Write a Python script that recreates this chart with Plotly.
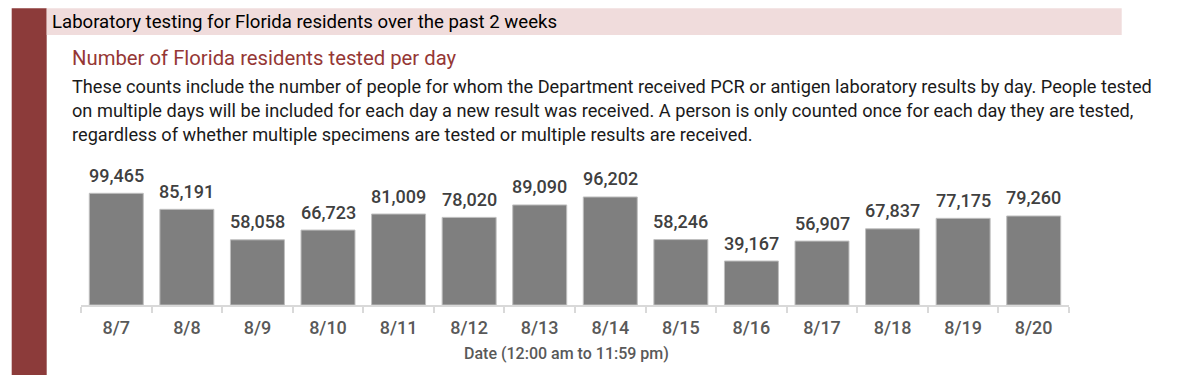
import plotly.graph_objects as go

dates = ["8/7", "8/8", "8/9", "8/10", "8/11", "8/12", "8/13", "8/14",
         "8/15", "8/16", "8/17", "8/18", "8/19", "8/20"]
tested = [99465, 85191, 58058, 66723, 81009, 78020, 89090, 96202,
          58246, 39167, 56907, 67837, 77175, 79260]

banner_title = "Laboratory testing for Florida residents over the past 2 weeks"
chart_title = "Number of Florida residents tested per day"
description = [
    "These counts include the number of people for whom the Department received PCR or antigen laboratory results by day. People tested",
    "on multiple days will be included for each day a new result was received. A person is only counted once for each day they are tested,",
    "regardless of whether multiple specimens are tested or multiple results are received.",
]
x_title = "Date (12:00 am to 11:59 pm)"

OFF = 8  # page body margin of the browser
W, H = 1200 - OFF, 375 - OFF
# plot area in page pixels
L, R, T, B = 81 - OFF, 1069 - OFF, 150 - OFF, 305 - OFF


def px(x):
    return (x - OFF - L) / (R - L)


def py(y):
    return (B - (y - OFF)) / (B - T)


FONT = "Roboto"

fig = go.Figure()
fig.add_trace(go.Bar(
    x=dates, y=tested,
    marker=dict(color="#7f7f7f", line=dict(color="#bfbfbf", width=1)),
    hoverinfo="skip",
))

annotations = []
for d, v in zip(dates, tested):
    annotations.append(dict(
        x=d, y=v, xref="x", yref="y", text=f"{v:,}", showarrow=False,
        yanchor="middle", yshift=18,
        font=dict(family=FONT, size=18, color="#404040", weight=500),
    ))

annotations.append(dict(
    x=px(50), y=py(21.6), xref="paper", yref="paper", text=banner_title,
    showarrow=False, xanchor="left", yanchor="middle",
    font=dict(family=FONT, size=18.6, color="#000000"),
))
annotations.append(dict(
    x=px(70), y=py(58), xref="paper", yref="paper", text=chart_title,
    showarrow=False, xanchor="left", yanchor="middle",
    font=dict(family=FONT, size=20.3, color="#953735"),
))
for i, line in enumerate(description):
    annotations.append(dict(
        x=px(70), y=py(86.5 + 24 * i), xref="paper", yref="paper", text=line,
        showarrow=False, xanchor="left", yanchor="middle",
        font=dict(family=FONT, size=18.2, color="#1a1a1a"),
    ))
annotations.append(dict(
    x=px(566), y=py(353), xref="paper", yref="paper", text=x_title,
    showarrow=False, xanchor="center", yanchor="middle",
    font=dict(family=FONT, size=16, color="#595959", weight=500),
))

shapes = [
    dict(type="rect", xref="paper", yref="paper",
         x0=px(11.7), x1=px(46.7), y0=py(380), y1=py(8.3),
         fillcolor="#8c3b3a", line=dict(width=0), layer="below"),
    dict(type="rect", xref="paper", yref="paper",
         x0=px(46.7), x1=px(1121.7), y0=py(35), y1=py(8.3),
         fillcolor="#f0dcdc", line=dict(width=0), layer="below"),
]

scale = 1.123e-3  # pixels per person
fig.update_layout(
    width=W, height=H,
    margin=dict(l=L, r=W - R, t=T, b=H - B, pad=0),
    paper_bgcolor="white", plot_bgcolor="white",
    bargap=0.235,
    showlegend=False,
    annotations=annotations,
    shapes=shapes,
    xaxis=dict(
        type="category", showline=True, linecolor="#d9d9d9", linewidth=1.5,
        ticks="outside", ticklen=6, tickcolor="#d9d9d9", tickwidth=1.5,
        tickson="boundaries", showgrid=False, ticklabelstandoff=6,
        tickfont=dict(family=FONT, size=18, color="#595959", weight=500),
    ),
    yaxis=dict(
        range=[0, (B - T) / scale], visible=False, showgrid=False, zeroline=False,
    ),
    font=dict(family=FONT),
)

fig.write_html("out.html")
